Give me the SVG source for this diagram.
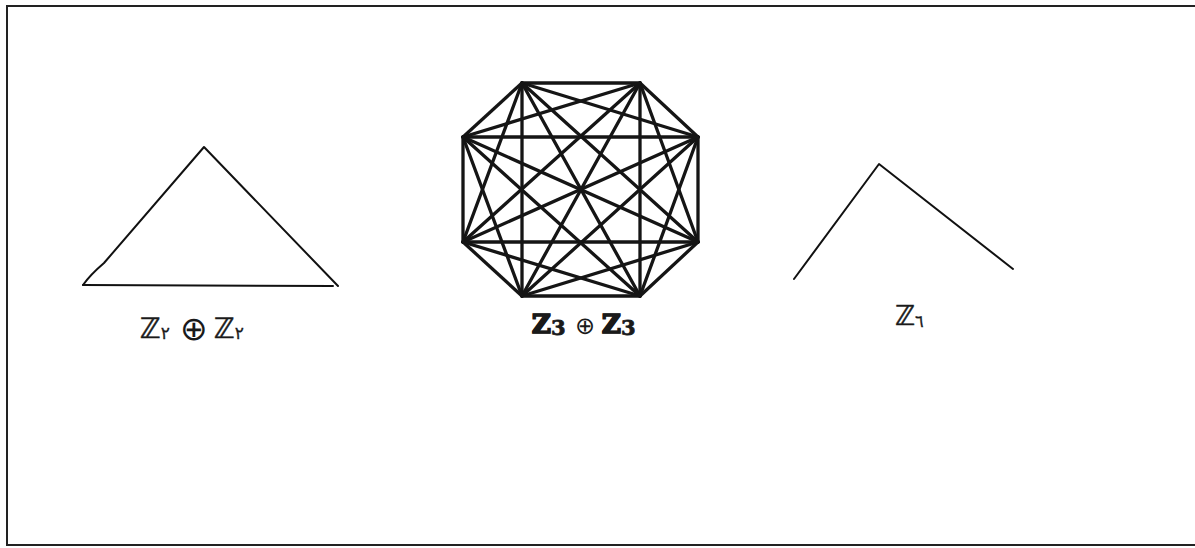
<svg xmlns="http://www.w3.org/2000/svg" width="1195" height="548" viewBox="0 0 1195 548">
<style>
.frame{fill:none;stroke:#222;stroke-width:2}
.thin{fill:none;stroke:#111;stroke-width:2;stroke-linejoin:round;stroke-linecap:round}
.edge{stroke:#151515;stroke-width:3.3;stroke-linecap:round}
.lbl{font-family:"DejaVu Sans","Noto Sans",sans-serif;fill:#1a1a1a;stroke:#1a1a1a;stroke-width:0.5}
.lblb{font-family:"DejaVu Serif","Liberation Serif",serif;font-weight:bold;fill:#1a1a1a;stroke:#1a1a1a;stroke-width:0.8}
.op{font-family:"DejaVu Sans","Noto Sans",sans-serif;fill:#1a1a1a}
</style>
<rect class="frame" x="7" y="6" width="1196" height="539"/>
<g id="node-z2z2">
<path class="thin" d="M83,285 C90,275 97,269 104,263 L204,147 L338,286"/>
<path class="thin" d="M83,285 L333,286"/>
<text class="lbl" x="140" y="338" font-size="28">ℤ<tspan font-size="17" dy="1" stroke-width="0.3">٢</tspan></text>
<text class="op" x="180" y="340" font-size="33">⊕</text>
<text class="lbl" x="214" y="338" font-size="28">ℤ<tspan font-size="17" dy="1" stroke-width="0.3">٢</tspan></text>
</g>
<g id="node-z3z3-label">
<text class="lblb" x="532" y="333" font-size="26">ℤ<tspan font-size="21" dy="2">3</tspan></text>
<text class="op" x="575" y="334" font-size="24">⊕</text>
<text class="lblb" x="602" y="333" font-size="26">ℤ<tspan font-size="21" dy="2">3</tspan></text>
</g>
<g id="connectors">
<line class="edge" x1="522" y1="83" x2="640" y2="83"/>
<line class="edge" x1="522" y1="83" x2="698" y2="137"/>
<line class="edge" x1="522" y1="83" x2="698" y2="242"/>
<line class="edge" x1="522" y1="83" x2="640" y2="296"/>
<line class="edge" x1="522" y1="83" x2="522" y2="296"/>
<line class="edge" x1="522" y1="83" x2="463" y2="242"/>
<line class="edge" x1="522" y1="83" x2="463" y2="137"/>
<line class="edge" x1="640" y1="83" x2="698" y2="137"/>
<line class="edge" x1="640" y1="83" x2="698" y2="242"/>
<line class="edge" x1="640" y1="83" x2="640" y2="296"/>
<line class="edge" x1="640" y1="83" x2="522" y2="296"/>
<line class="edge" x1="640" y1="83" x2="463" y2="242"/>
<line class="edge" x1="640" y1="83" x2="463" y2="137"/>
<line class="edge" x1="698" y1="137" x2="698" y2="242"/>
<line class="edge" x1="698" y1="137" x2="640" y2="296"/>
<line class="edge" x1="698" y1="137" x2="522" y2="296"/>
<line class="edge" x1="698" y1="137" x2="463" y2="242"/>
<line class="edge" x1="698" y1="137" x2="463" y2="137"/>
<line class="edge" x1="698" y1="242" x2="640" y2="296"/>
<line class="edge" x1="698" y1="242" x2="522" y2="296"/>
<line class="edge" x1="698" y1="242" x2="463" y2="242"/>
<line class="edge" x1="698" y1="242" x2="463" y2="137"/>
<line class="edge" x1="640" y1="296" x2="522" y2="296"/>
<line class="edge" x1="640" y1="296" x2="463" y2="242"/>
<line class="edge" x1="640" y1="296" x2="463" y2="137"/>
<line class="edge" x1="522" y1="296" x2="463" y2="242"/>
<line class="edge" x1="522" y1="296" x2="463" y2="137"/>
<line class="edge" x1="463" y1="242" x2="463" y2="137"/>
</g>
<g id="node-z6">
<path class="thin" d="M794,279 L879,164 L1013,269"/>
<text class="lbl" x="895" y="325" font-size="27">ℤ<tspan font-size="16" dy="2" stroke-width="0.3">٦</tspan></text>
</g>
</svg>
